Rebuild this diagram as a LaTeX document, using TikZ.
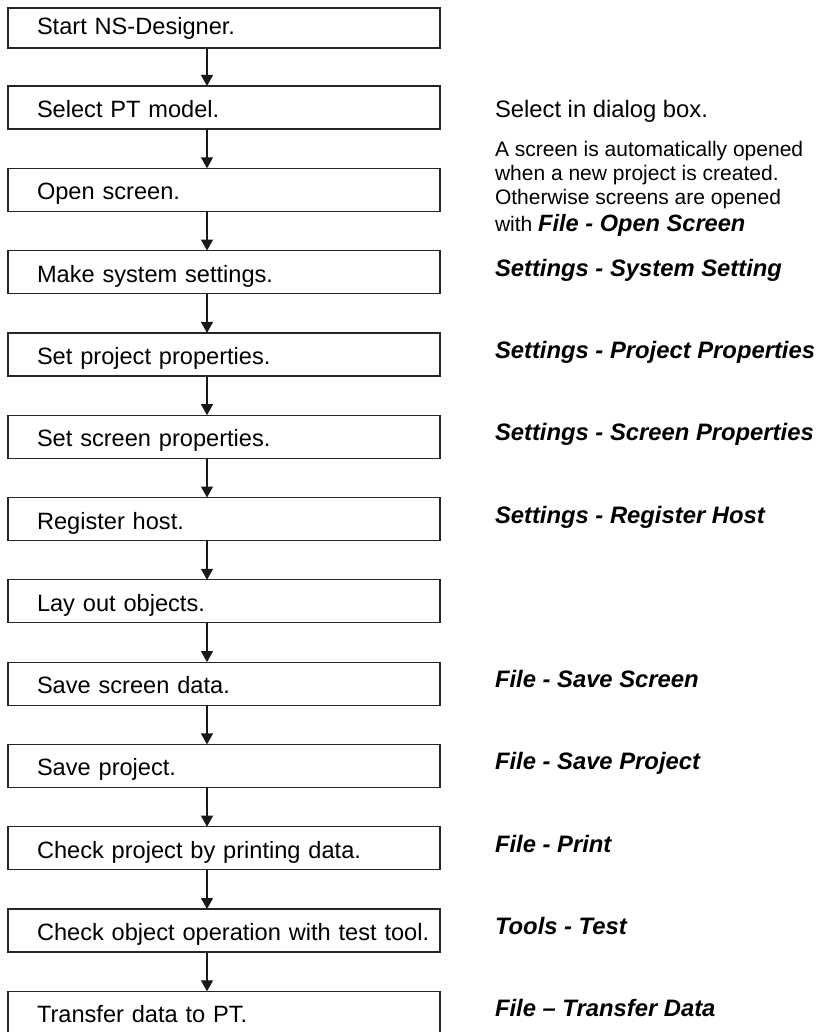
\documentclass[tikz,border=0pt]{standalone}
\usepackage{fontspec}
\setmainfont{Liberation Sans}
\usetikzlibrary{positioning, arrows.meta}

\begin{document}
\begin{tikzpicture}[
            x=1pt, y=1pt,
            node distance=39.3pt,
            task/.style={draw=black!85, line width=1.2pt, minimum height=43pt, text width=424pt,
                inner xsep=4pt, inner ysep=0pt, outer sep=0pt, align=left,
                text height=22pt, text depth=2pt, font=\fontsize{23.6}{28}\selectfont,
                execute at begin node={\hspace*{25pt}}},
            hint/.style={inner sep=0pt, outer sep=0pt, text height=22pt, text depth=2pt,
                font=\fontsize{23.8}{28}\selectfont},
            menu/.style={hint, text height=16pt, text depth=8pt, font=\fontsize{23.8}{28}\selectfont\bfseries\itshape},
            note/.style={inner sep=0pt, outer sep=0pt, align=left, font=\fontsize{21}{23.8}\selectfont},
            arrow/.style={-{Triangle[width=12pt, length=11pt]}, line width=1.2pt, draw=black!90}
        ]
            \useasboundingbox (0,0) rectangle (819,-1032);

            \node [task, anchor=north west, minimum height=40pt, text height=18pt, text depth=4pt] (start) at (8,-8) {Start NS-Designer.};
            \node [task, below=38pt of start] (model) {Select PT model.};
            \node [task, below=of model] (open) {Open screen.};
            \node [task, below=of open] (system) {Make system settings.};
            \node [task, below=of system] (project) {Set project properties.};
            \node [task, below=of project] (screen) {Set screen properties.};
            \node [task, below=of screen] (host) {Register host.};
            \node [task, below=of host] (layout) {Lay out objects.};
            \node [task, below=of layout] (savescr) {Save screen data.};
            \node [task, below=of savescr] (saveprj) {Save project.};
            \node [task, below=of saveprj] (print) {Check project by printing data.};
            \node [task, below=of print] (test) {Check object operation with test tool.};
            \node [task, below=of test] (transfer) {Transfer data to PT.};

            % menu commands on the right
            \node [hint, right=55pt of model, anchor=west] (m-model) {Select in dialog box.};
            \node [note, right=55pt of open, anchor=west, yshift=1pt] (m-open) {A screen is automatically opened\\when a new project is created.\\Otherwise screens are opened\\[3pt]with {\fontsize{23.6}{23.8}\selectfont\bfseries\itshape File - Open Screen}};
            \node [menu, right=55pt of system] (m-system) {Settings - System Setting};
            \node [menu, right=55pt of project] (m-project) {Settings - Project Properties};
            \node [menu, right=55pt of screen] (m-screen) {Settings - Screen Properties};
            \node [menu, right=55pt of host] (m-host) {Settings - Register Host};
            \node [menu, right=55pt of savescr] (m-savescr) {File - Save Screen};
            \node [menu, right=55pt of saveprj] (m-saveprj) {File - Save Project};
            \node [menu, right=55pt of print] (m-print) {File - Print};
            \node [menu, right=55pt of test] (m-test) {Tools - Test};
            \node [menu, right=55pt of transfer] (m-transfer) {File – Transfer Data};

            \draw [arrow] ([xshift=-17pt]start.south) -- ([xshift=-17pt]model.north);
            \draw [arrow] ([xshift=-17pt]model.south) -- ([xshift=-17pt]open.north);
            \draw [arrow] ([xshift=-17pt]open.south) -- ([xshift=-17pt]system.north);
            \draw [arrow] ([xshift=-17pt]system.south) -- ([xshift=-17pt]project.north);
            \draw [arrow] ([xshift=-17pt]project.south) -- ([xshift=-17pt]screen.north);
            \draw [arrow] ([xshift=-17pt]screen.south) -- ([xshift=-17pt]host.north);
            \draw [arrow] ([xshift=-17pt]host.south) -- ([xshift=-17pt]layout.north);
            \draw [arrow] ([xshift=-17pt]layout.south) -- ([xshift=-17pt]savescr.north);
            \draw [arrow] ([xshift=-17pt]savescr.south) -- ([xshift=-17pt]saveprj.north);
            \draw [arrow] ([xshift=-17pt]saveprj.south) -- ([xshift=-17pt]print.north);
            \draw [arrow] ([xshift=-17pt]print.south) -- ([xshift=-17pt]test.north);
            \draw [arrow] ([xshift=-17pt]test.south) -- ([xshift=-17pt]transfer.north);

        \end{tikzpicture}
\end{document}
